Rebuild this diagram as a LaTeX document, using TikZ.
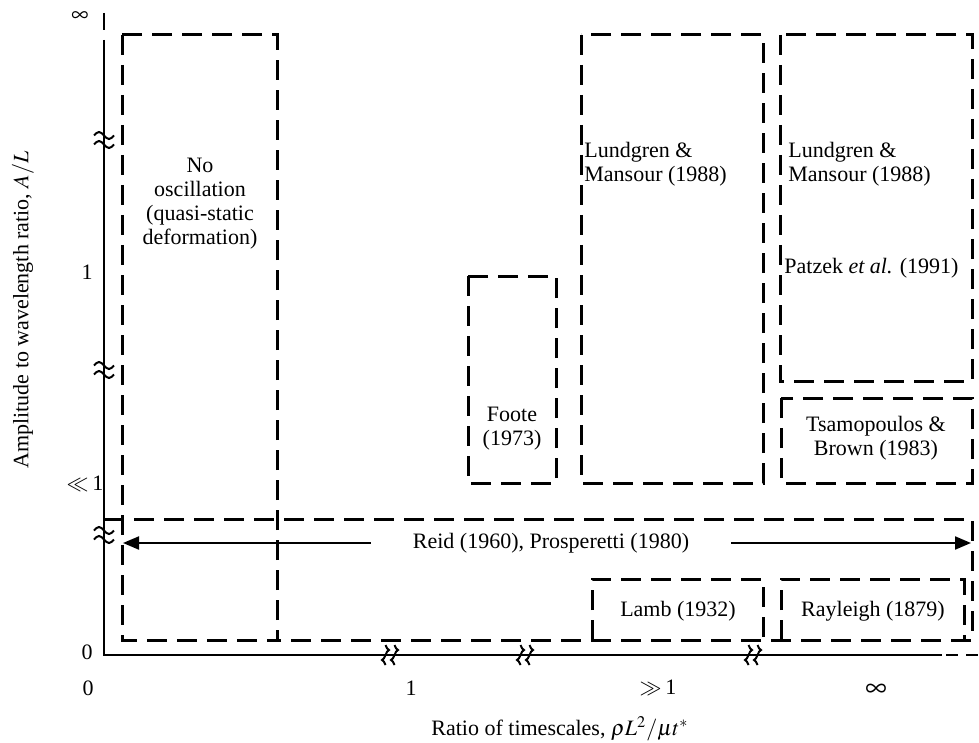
\documentclass[tikz,border=0pt]{standalone}
\usepackage{mathptmx}
\usepackage{fontspec}
\setmainfont{Liberation Serif}
\usetikzlibrary{arrows.meta}
\begin{document}
\begin{tikzpicture}[x=0.5pt,y=-0.5pt,
  box/.style={line width=1.5pt, dash pattern=on 10pt off 5pt},
  axis/.style={line width=1.2pt},
  brk/.style={line width=1pt},
  lbl/.style={font=\fontsize{11}{12}\selectfont, inner sep=0pt, align=center},
  big/.style={font=\fontsize{15}{15}\selectfont, inner sep=0pt},
  arr/.style={line width=1pt, -{Triangle[length=8pt,width=6.5pt]}},
  ]
\useasboundingbox (0,0) rectangle (979,743);
% axes
\draw[axis] (104,13) -- (104,30);
\draw[axis] (104,40) -- (104,655) -- (942,655);
\draw[line width=0.8pt, dash pattern=on 6pt off 4pt] (946,655) -- (979,655);
% axis breaks
\foreach \yb in {140,370,535}{
  \foreach \d in {-4.5,4.5}{
    \draw[brk] (94,\yb+\d) sin (99,\yb+\d-3.5) cos (104,\yb+\d) sin (109,\yb+\d+3.5) cos (114,\yb+\d);
  }
}
\foreach \xb in {390,525,753}{
  \foreach \d in {-4.5,4.5}{
    \draw[brk] (\xb+\d,645) sin (\xb+\d+3.5,650) cos (\xb+\d,655) sin (\xb+\d-3.5,660) cos (\xb+\d,665);
  }
}
% boxes
\draw[box] (122,35) rectangle (277,640);
\draw[box] (104,519) -- (972,519) -- (972,640) -- (277,640);
\draw[box] (468,276) rectangle (556,483);
\draw[box] (581,35) rectangle (763,483);
\draw[box] (780,35) rectangle (972,381);
\draw[box] (781,398) rectangle (972,483);
\draw[box] (592,640) -- (592,579) -- (763,579) -- (763,640);
\draw[box] (781,640) -- (781,579) -- (964,579) -- (964,640);
% box labels
\node[lbl] (noosc) at (200,204) {No\\oscillation\\(quasi-static\\deformation)};
\node[lbl] (foote) at (512,429) {Foote\\(1973)};
\node[lbl, align=left, anchor=west] (lm1) at (584,164) {Lundgren \&\\Mansour (1988)};
\node[lbl, align=left, anchor=west] (lm2) at (788,164) {Lundgren \&\\Mansour (1988)};
\node[lbl, anchor=west] (patzek) at (784,268) {Patzek \textit{et al.} (1991)};
\node[lbl] (tsam) at (876,438) {Tsamopoulos \&\\Brown (1983)};
\node[lbl] (lamb) at (678,611) {Lamb (1932)};
\node[lbl] (ray) at (873,611) {Rayleigh (1879)};
\node[lbl, inner xsep=21pt] (reid) at (551,543) {Reid (1960), Prosperetti (1980)};
\coordinate (aL) at (123,543);
\coordinate (aR) at (971,543);
\draw[arr] (reid.west) -- (aL);
\draw[arr] (reid.east) -- (aR);
% ticks
\node[font=\fontsize{12}{12}\selectfont, inner sep=0pt] (yinf) at (80,17) {$\infty$};
\node[lbl] (y1) at (87,272) {1};
\node[lbl] (yll) at (85,484) {$\ll$\,1};
\node[lbl] (y0) at (87,652) {0};
\node[lbl] (x0) at (88,688) {0};
\node[lbl] (x1) at (411,688) {1};
\node[lbl] (xgg) at (658,688) {$\gg$\,1};
\node[big] (xinf) at (876,690) {$\infty$};
% axis titles
\node[lbl] (xtitle) at (560,729) {Ratio of timescales, $\rho L^2/\mu t^*$};
\node[lbl, rotate=90] (ytitle) at (23,310) {Amplitude to wavelength ratio, $A/L$};
\end{tikzpicture}
\end{document}
